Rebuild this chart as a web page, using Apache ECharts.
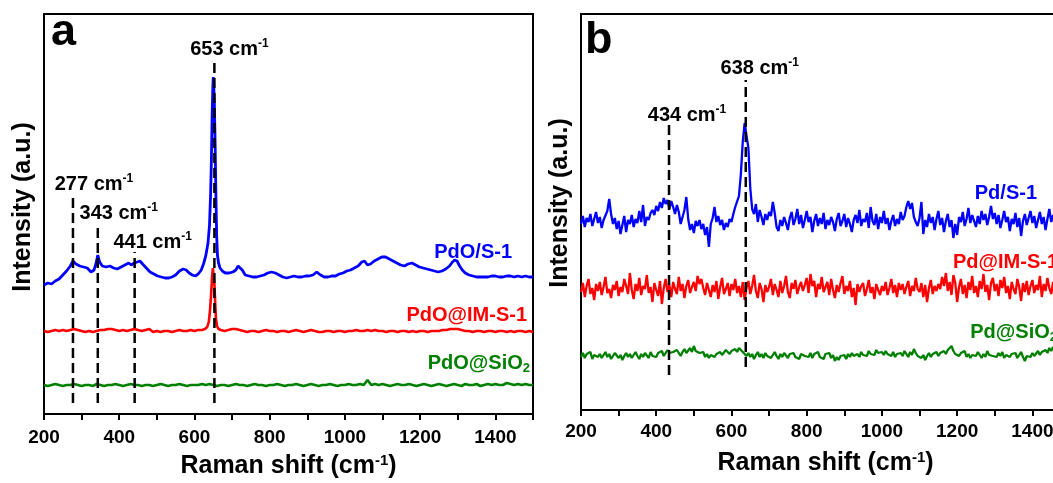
<!DOCTYPE html>
<html>
<head>
<meta charset="utf-8">
<title>Raman spectra</title>
<script src="https://cdn.jsdelivr.net/npm/echarts@6.0.0/dist/echarts.min.js"></script>
<style>
  html, body { margin: 0; padding: 0; background: #ffffff; }
  #chart { width: 1053px; height: 483px; }
</style>
</head>
<body>
<div id="chart"></div>
<script>
// ---------- (a) oxidised samples: Raman shift (cm-1) / intensity (a.u., traces offset) ----------
const SHIFT_A_PDO_S1 = [
  200, 210, 220, 230, 240, 250, 260, 270, 277, 285,
  295, 305, 315, 325, 333, 338, 343, 348, 355, 365,
  375, 385, 395, 405, 415, 425, 432, 440, 448, 455,
  462, 472, 482, 492, 502, 512, 522, 532, 540, 550,
  560, 570, 578, 586, 594, 602, 610, 618, 624, 630,
  636, 640, 643, 645, 647, 649, 650, 651, 653, 655,
  657, 659, 661, 664, 668, 674, 682, 692, 702, 710,
  716, 721, 727, 735, 745, 755, 765, 775, 785, 795,
  805, 815, 825, 835, 845, 855, 865, 875, 885, 895,
  905, 915, 925, 935, 945, 955, 965, 975, 985, 995,
  1005, 1015, 1025, 1035, 1045, 1052, 1060, 1068, 1078, 1088,
  1098, 1108, 1118, 1128, 1138, 1148, 1158, 1168, 1178, 1188,
  1198, 1208, 1218, 1228, 1238, 1248, 1258, 1268, 1278, 1286,
  1292, 1298, 1305, 1312, 1320, 1330, 1340, 1350, 1360, 1370,
  1380, 1390, 1400, 1410, 1420, 1430, 1440, 1450, 1460, 1470,
  1480, 1490, 1500
];
const INT_A_PDO_S1 = [
  129, 131, 130, 133, 135, 139, 143, 148, 153, 150,
  148, 147, 146, 142, 144, 150, 159, 152, 148, 147,
  148, 146, 145, 147, 149, 151, 149, 151, 152, 153,
  150, 146, 142, 140, 138, 137, 136, 136, 137, 139,
  143, 145, 144, 141, 139, 138, 140, 144, 150, 158,
  171, 189, 221, 254, 299, 329, 337, 332, 309, 269,
  219, 179, 159, 151, 146, 143, 141, 141, 142, 144,
  148, 150, 144, 139, 138, 137, 137, 138, 139, 141,
  142, 141, 139, 137, 136, 137, 138, 137, 137, 138,
  138, 139, 142, 139, 137, 137, 138, 138, 140, 141,
  143, 144, 146, 148, 152, 153, 149, 150, 153, 155,
  157, 157, 155, 153, 151, 149, 148, 150, 151, 149,
  147, 146, 145, 144, 143, 142, 143, 145, 148, 152,
  154, 153, 148, 144, 141, 139, 138, 137, 137, 137,
  137, 138, 138, 137, 137, 138, 138, 137, 138, 137,
  138, 137, 137
];

const SHIFT_A_PDO_IM = [
  200, 210, 220, 230, 240, 250, 260, 270, 280, 290,
  300, 310, 320, 330, 340, 350, 360, 370, 380, 390,
  400, 410, 420, 430, 440, 450, 460, 470, 480, 490,
  500, 510, 520, 530, 540, 550, 560, 570, 580, 590,
  600, 610, 620, 628, 634, 638, 641, 644, 647, 649,
  650, 651, 653, 655, 657, 660, 664, 670, 680, 690,
  700, 710, 720, 730, 740, 750, 760, 770, 780, 790,
  800, 810, 820, 830, 840, 850, 860, 870, 880, 890,
  900, 910, 920, 930, 940, 950, 960, 970, 980, 990,
  1000, 1010, 1020, 1030, 1040, 1050, 1060, 1070, 1080, 1090,
  1100, 1110, 1120, 1130, 1140, 1150, 1160, 1170, 1180, 1190,
  1200, 1210, 1220, 1230, 1240, 1250, 1260, 1270, 1280, 1290,
  1300, 1310, 1320, 1330, 1340, 1350, 1360, 1370, 1380, 1390,
  1400, 1410, 1420, 1430, 1440, 1450, 1460, 1470, 1480, 1490,
  1500
];
const INT_A_PDO_IM = [
  83, 82, 83, 84, 83, 84, 83, 84, 85, 84,
  83, 82, 83, 82, 83, 84, 84, 85, 85, 84,
  83, 84, 83, 84, 85, 84, 83, 84, 85, 82,
  83, 82, 83, 83, 82, 83, 84, 83, 83, 84,
  83, 84, 84, 85, 87, 92, 102, 118, 138, 146,
  147, 144, 130, 112, 96, 88, 85, 84, 83, 84,
  85, 85, 84, 83, 82, 83, 83, 82, 83, 84,
  83, 83, 82, 83, 83, 82, 83, 84, 83, 82,
  83, 84, 83, 82, 82, 83, 83, 82, 83, 83,
  82, 83, 83, 84, 83, 83, 84, 83, 84, 83,
  83, 82, 83, 83, 82, 83, 83, 82, 83, 82,
  83, 83, 82, 83, 83, 83, 84, 84, 85, 85,
  85, 84, 83, 83, 82, 83, 83, 82, 83, 83,
  82, 83, 83, 82, 83, 82, 83, 83, 82, 83,
  82
];

// PdO@SiO2 trace, sampled every 10 cm-1 from 200 cm-1
const SHIFT_A_PDO_SIO2_START = 200;
const SHIFT_A_PDO_SIO2_STEP = 10;
const INT_A_PDO_SIO2 = [
  29, 28, 29, 30, 29, 28, 29, 29, 30, 29,
  28, 29, 29, 28, 30, 29, 28, 29, 29, 30,
  29, 28, 29, 30, 29, 29, 28, 29, 29, 28,
  29, 30, 29, 28, 29, 29, 30, 29, 28, 29,
  29, 29, 30, 29, 30, 29, 28, 29, 29, 28,
  29, 30, 29, 29, 28, 29, 30, 29, 29, 28,
  29, 29, 30, 29, 28, 29, 29, 30, 29, 28,
  29, 30, 29, 28, 29, 29, 30, 29, 28, 29,
  29, 30, 29, 29, 30, 29, 34, 29, 30, 29,
  30, 29, 28, 29, 30, 29, 29, 30, 29, 28,
  29, 30, 29, 28, 29, 30, 29, 28, 29, 30,
  29, 28, 30, 29, 29, 30, 28, 29, 30, 29,
  30, 29, 29, 31, 30, 29, 30, 29, 30, 29,
  29
];

// marked bands in (a): position, top and foot of each guide line
const PEAKS_A = [277, 343, 441, 653];
const PEAK_TOPS_A = [219, 187, 162, 356];
const PEAK_FEET_A = [11, 11, 11, 11];

// ---------- (b) reduced samples, sampled every 5 cm-1 from 200 cm-1 ----------
const SHIFT_B_START = 200;
const SHIFT_B_STEP = 5;
const INT_B_PD_S1 = [
  186, 194, 183, 192, 188, 196, 184, 191, 198, 187,
  193, 182, 190, 189, 199, 211, 196, 186, 192, 181,
  189, 176, 185, 194, 178, 190, 186, 195, 183, 191,
  187, 199, 188, 205, 184, 193, 190, 197, 200, 195,
  204, 199, 208, 202, 212, 206, 210, 201, 209, 203,
  196, 205, 198, 186, 193, 200, 213, 191, 180, 186,
  177, 189, 184, 190, 181, 186, 175, 183, 163, 186,
  192, 203, 188, 194, 185, 190, 180, 187, 183, 191,
  188, 196, 203, 201, 214, 236, 268, 287, 285, 262,
  222, 201, 196, 206, 188, 200, 193, 185, 196, 190,
  198, 194, 208, 197, 183, 179, 190, 184, 193, 187,
  180, 192, 198, 185, 191, 201, 186, 195, 182, 190,
  199, 188, 193, 178, 189, 196, 184, 192, 186, 197,
  181, 190, 185, 193, 188, 179, 191, 197, 184, 189,
  196, 183, 192, 186, 178, 190, 195, 187, 200, 184,
  191, 188, 197, 182, 203, 189, 185, 196, 181, 193,
  187, 199, 186, 192, 180, 189, 195, 184, 191, 186,
  198, 190, 194, 203, 209, 201, 207, 193, 188, 184,
  192, 208, 176, 190, 183, 196, 187, 193, 180, 191,
  199, 185, 192, 178, 189, 196, 183, 190, 172, 186,
  175, 193, 188, 198, 184, 191, 202, 187, 195, 189,
  183, 194, 186, 199, 190, 196, 185, 193, 204, 191,
  197, 186, 195, 182, 190, 199, 188, 193, 179, 191,
  186, 197, 183, 192, 174, 189, 196, 185, 192, 199,
  187, 194, 182, 190, 198, 186, 193, 180, 191, 201,
  188, 195, 184, 192, 199, 186, 177, 191, 196, 185,
  192
];
const INT_B_PD_IM = [
  118, 127, 113, 124, 131, 116, 122, 110, 126, 119,
  128, 115, 123, 133, 117, 121, 112, 125, 120, 129,
  114, 123, 118, 131, 124, 116, 137, 120, 111, 126,
  119, 132, 115, 124, 121, 135, 117, 123, 108, 127,
  120, 114, 129, 106, 122, 131, 118, 125, 113, 128,
  121, 116, 133, 119, 126, 112, 124, 130, 117, 123,
  128, 119, 134, 126, 131, 122, 115, 127, 120, 113,
  125, 118, 129, 111, 123, 132, 116, 121, 127, 114,
  126, 120, 131, 117, 124, 113, 128, 110, 122, 129,
  116, 124, 135, 119, 112, 127, 121, 108, 125, 118,
  123, 131, 115, 126, 120, 113, 129, 117, 124, 134,
  118, 112, 127, 121, 130, 116, 123, 128, 119, 125,
  132, 117, 136, 124, 129, 113, 126, 121, 133, 118,
  123, 128, 115, 131, 120, 112, 125, 118, 127, 134,
  116, 124, 119, 129, 113, 122, 105, 126, 118, 124,
  127, 114, 121, 130, 117, 123, 111, 126, 120, 115,
  124, 119, 128, 115, 122, 131, 117, 125, 113, 127,
  120, 126, 116, 123, 129, 114, 124, 119, 132, 121,
  118, 127, 113, 125, 108, 122, 130, 116, 124, 119,
  126, 121, 133, 124, 137, 119, 128, 115, 135, 127,
  108, 123, 131, 116, 125, 112, 128, 120, 134, 117,
  124, 113, 129, 121, 136, 118, 125, 110, 127, 132,
  119, 126, 114, 130, 122, 133, 117, 124, 111, 128,
  121, 116, 131, 123, 109, 127, 118, 129, 115, 124,
  130, 117, 125, 120, 134, 113, 126, 119, 132, 122,
  116, 128, 121, 135, 118, 124, 112, 129, 123, 110,
  121
];
const INT_B_PD_SIO2 = [
  53, 57, 52, 56, 54, 58, 51, 55, 57, 53,
  56, 52, 55, 58, 53, 56, 51, 54, 57, 55,
  52, 55, 50, 54, 57, 53, 56, 52, 55, 58,
  54, 51, 56, 53, 57, 55, 52, 58, 54, 56,
  53, 57, 55, 59, 54, 56, 60, 57, 55, 58,
  56, 60, 57, 54, 58, 61, 57, 59, 62, 58,
  64, 59, 61, 57, 55, 58, 53, 56, 52, 55,
  57, 53, 56, 54, 58, 55, 57, 60, 58, 56,
  59, 57, 61, 58, 62, 60, 58, 56, 54, 57,
  53, 56, 51, 55, 58, 53, 56, 52, 57, 54,
  56, 52, 55, 58, 54, 51, 56, 53, 57, 55,
  52, 56, 54, 57, 53, 55, 51, 56, 58, 54,
  55, 53, 57, 52, 56, 54, 58, 53, 55, 51,
  56, 54, 57, 52, 55, 49, 53, 50, 54, 52,
  55, 51, 56, 53, 57, 54, 52, 56, 53, 58,
  55, 57, 54, 59, 56, 58, 55, 60, 57, 56,
  58, 55, 59, 56, 57, 54, 58, 53, 56, 55,
  57, 54, 59, 56, 53, 58, 55, 61, 57, 54,
  56, 52, 55, 50, 54, 57, 53, 56, 55, 58,
  54, 57, 55, 59, 56, 60, 58, 64, 59, 56,
  58, 54, 57, 55, 59, 53, 56, 52, 55, 57,
  54, 58, 55, 52, 56, 53, 59, 55, 57, 54,
  56, 53, 57, 54, 58, 52, 55, 57, 53, 56,
  54, 57, 52, 55, 58, 53, 49, 54, 56, 53,
  57, 54, 56, 59, 55, 58, 56, 60, 57, 62,
  59, 63, 58, 61, 57, 60, 56, 59, 62, 58,
  57
];

// marked bands in (b)
const PEAKS_B = [434, 638];
const PEAK_TOPS_B = [285, 330];
const PEAK_FEET_B = [35, 43];

// labelled ticks on both shift axes
const TICK_LABELS = [200, 400, 600, 800, 1000, 1200, 1400];

// ---------- drawing ----------
const FONT = '"Liberation Sans", Arial, Helvetica, sans-serif';
const BLUE = '#0000ff';
const RED = '#ff0000';
const GREEN = '#008000';

function zip(xs, ys) { return ys.map((y, i) => [xs[i], y]); }
function sampled(start, step, ys) { return ys.map((y, i) => [start + i * step, y]); }

// one spectrum; its name is written just above the right end of the trace
function spectrum(points, gridIndex, color, width, tag, offset) {
  const data = points.slice();
  const last = data.length - 1;
  data[last] = {
    value: points[last],
    symbol: 'circle',
    symbolSize: 0,
    label: {
      show: true,
      position: 'left',
      distance: 0,
      offset: offset,
      formatter: tag,
      color: color,
      fontFamily: FONT,
      fontWeight: 'bold',
      fontSize: 20,
      rich: {
        m: { color: color, fontFamily: FONT, fontWeight: 'bold', fontSize: 20 },
        sub: { color: color, fontFamily: FONT, fontWeight: 'bold', fontSize: 13, padding: [10, 0, 0, 0] }
      }
    }
  };
  return {
    type: 'line',
    xAxisIndex: gridIndex,
    yAxisIndex: gridIndex,
    data: data,
    symbol: 'none',
    showSymbol: true,
    clip: false,
    silent: true,
    animation: false,
    lineStyle: { color: color, width: width },
    itemStyle: { color: color },
    z: 2
  };
}

const PEAK_RICH = {
  n: { color: '#000', fontFamily: FONT, fontWeight: 'bold', fontSize: 20 },
  s: { color: '#000', fontFamily: FONT, fontWeight: 'bold', fontSize: 12, padding: [0, 0, 10, 0] }
};

// dashed guide at a band position, labelled at its top end
function peakGuide(x, foot, top, gridIndex, offset) {
  return {
    type: 'line',
    xAxisIndex: gridIndex,
    yAxisIndex: gridIndex,
    symbol: 'none',
    showSymbol: true,
    clip: false,
    silent: true,
    animation: false,
    z: 5,
    lineStyle: { color: '#000', width: 2.5, type: [10, 5] },
    data: [
      [x, foot],
      {
        value: [x, top],
        symbol: 'circle',
        symbolSize: 0,
        label: {
          show: true,
          position: 'top',
          distance: 0,
          offset: offset,
          formatter: '{n|' + x + ' cm}{s|-1}',
          rich: PEAK_RICH
        }
      }
    ]
  };
}

function shiftAxis(gridIndex, labelMargin, titleGap) {
  return {
    gridIndex: gridIndex,
    type: 'value',
    min: 200,
    max: 1500,
    interval: 100,
    name: '{t|Raman shift (cm}{s|-1}{t|)}',
    nameLocation: 'middle',
    nameGap: titleGap,
    nameTextStyle: {
      rich: {
        t: { color: '#000', fontFamily: FONT, fontWeight: 'bold', fontSize: 25 },
        s: { color: '#000', fontFamily: FONT, fontWeight: 'bold', fontSize: 15, padding: [0, 0, 12, 0] }
      }
    },
    axisLine: { show: true, onZero: false, lineStyle: { color: '#000', width: 2 } },
    axisTick: { show: true, inside: false, length: 6, lineStyle: { color: '#000', width: 2 } },
    axisLabel: {
      show: true,
      margin: labelMargin,
      color: '#000',
      fontFamily: FONT,
      fontWeight: 'bold',
      fontSize: 19,
      formatter: v => (TICK_LABELS.indexOf(v) >= 0 ? String(v) : '')
    },
    splitLine: { show: false }
  };
}

function intensityAxis(gridIndex, max, lift) {
  return {
    gridIndex: gridIndex,
    type: 'value',
    min: 0,
    max: max,
    name: 'Intensity (a.u.)',
    nameLocation: 'middle',
    nameGap: 8,
    nameTextStyle: {
      color: '#000',
      fontFamily: FONT,
      fontWeight: 'bold',
      fontSize: 25,
      padding: [0, 0, 0, lift]
    },
    axisLine: { show: false },
    axisTick: { show: false },
    axisLabel: { show: false },
    splitLine: { show: false }
  };
}

const series = [
  spectrum(zip(SHIFT_A_PDO_S1, INT_A_PDO_S1), 0, BLUE, 2.8, 'PdO/S-1', [-21, -25]),
  spectrum(zip(SHIFT_A_PDO_IM, INT_A_PDO_IM), 0, RED, 2.6, 'PdO@IM-S-1', [-6, -17]),
  spectrum(sampled(SHIFT_A_PDO_SIO2_START, SHIFT_A_PDO_SIO2_STEP, INT_A_PDO_SIO2), 0, GREEN, 2.6,
    '{m|PdO@SiO}{sub|2}', [-3, -22]),
  spectrum(sampled(SHIFT_B_START, SHIFT_B_STEP, INT_B_PD_S1), 1, BLUE, 2.3, 'Pd/S-1', [-33, -25]),
  spectrum(sampled(SHIFT_B_START, SHIFT_B_STEP, INT_B_PD_IM), 1, RED, 2.3, 'Pd@IM-S-1', [-12, -27]),
  spectrum(sampled(SHIFT_B_START, SHIFT_B_STEP, INT_B_PD_SIO2), 1, GREEN, 2.3,
    '{m|Pd@SiO}{sub|2}', [-13, -21])
];

const GUIDE_LABEL_OFFSETS_A = [[21, 0], [21, -3], [18, 1], [15, 2]];
const GUIDE_LABEL_OFFSETS_B = [[18, 1], [14, -1]];
PEAKS_A.forEach((x, i) => series.push(peakGuide(x, PEAK_FEET_A[i], PEAK_TOPS_A[i], 0, GUIDE_LABEL_OFFSETS_A[i])));
PEAKS_B.forEach((x, i) => series.push(peakGuide(x, PEAK_FEET_B[i], PEAK_TOPS_B[i], 1, GUIDE_LABEL_OFFSETS_B[i])));

const chart = echarts.init(document.getElementById('chart'), null, { renderer: 'canvas' });
chart.setOption({
  animation: false,
  backgroundColor: '#ffffff',
  grid: [
    { left: 44, top: 14, width: 489, height: 400, show: true, borderColor: '#000', borderWidth: 2,
      backgroundColor: 'transparent', containLabel: false, outerBoundsMode: 'none' },
    { left: 581, top: 14, width: 489, height: 396, show: true, borderColor: '#000', borderWidth: 2,
      backgroundColor: 'transparent', containLabel: false, outerBoundsMode: 'none' }
  ],
  xAxis: [shiftAxis(0, 14, 39), shiftAxis(1, 12, 40)],
  yAxis: [intensityAxis(0, 400, 14), intensityAxis(1, 396, 18)],
  graphic: [
    { type: 'text', left: 51, top: 10, style: { text: 'a', font: 'bold 45px ' + FONT, fill: '#000' } },
    { type: 'text', left: 585, top: 18, style: { text: 'b', font: 'bold 45px ' + FONT, fill: '#000' } }
  ],
  series: series
});
</script>
</body>
</html>
